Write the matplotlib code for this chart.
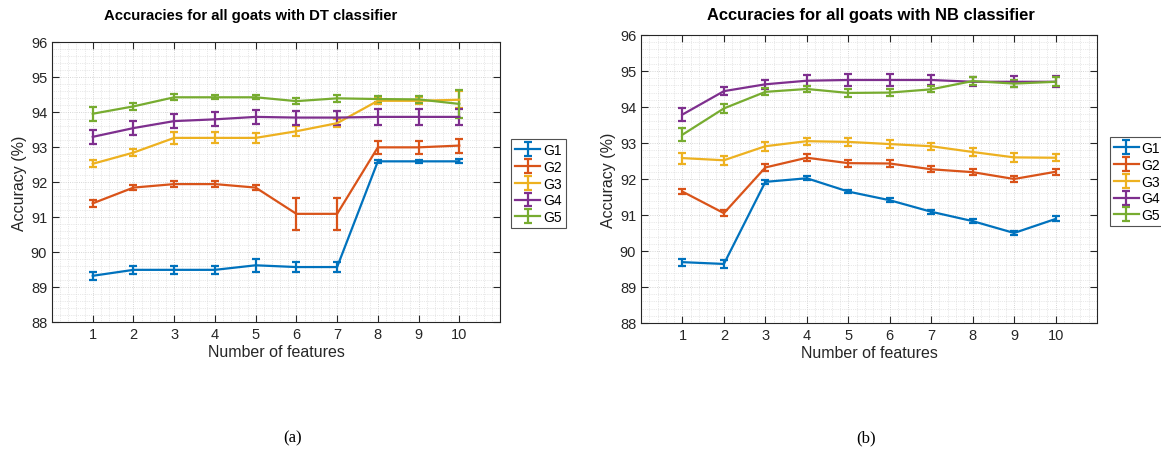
import numpy as np
import matplotlib
matplotlib.use("Agg")
import matplotlib.pyplot as plt
from matplotlib.ticker import MultipleLocator

plt.rcParams['font.family'] = ['Liberation Sans', 'DejaVu Sans']

features = np.arange(1, 11)
groups = ['G1', 'G2', 'G3', 'G4', 'G5']
colors = ['#0072BD', '#D95319', '#EDB120', '#7E2F8E', '#77AC30']

# DT classifier: mean accuracy and error per group
dt_mean = [
    [89.32, 89.49, 89.49, 89.49, 89.62, 89.57, 89.57, 92.59, 92.59, 92.59],
    [91.39, 91.84, 91.94, 91.94, 91.84, 91.09, 91.09, 92.99, 92.99, 93.04],
    [92.52, 92.84, 93.26, 93.26, 93.26, 93.45, 93.68, 94.32, 94.32, 94.35],
    [93.29, 93.54, 93.74, 93.79, 93.86, 93.84, 93.84, 93.86, 93.86, 93.86],
    [93.95, 94.16, 94.42, 94.42, 94.42, 94.31, 94.39, 94.37, 94.36, 94.23],
]
dt_err = [
    [0.12, 0.12, 0.12, 0.12, 0.18, 0.15, 0.15, 0.05, 0.05, 0.06],
    [0.10, 0.07, 0.08, 0.08, 0.07, 0.45, 0.45, 0.18, 0.18, 0.20],
    [0.10, 0.10, 0.18, 0.16, 0.15, 0.15, 0.12, 0.10, 0.10, 0.25],
    [0.20, 0.20, 0.20, 0.20, 0.20, 0.20, 0.20, 0.22, 0.22, 0.22],
    [0.20, 0.10, 0.08, 0.06, 0.06, 0.08, 0.10, 0.08, 0.10, 0.41],
]

# NB classifier
nb_mean = [
    [89.69, 89.64, 91.92, 92.02, 91.65, 91.41, 91.09, 90.83, 90.50, 90.89],
    [91.65, 91.05, 92.32, 92.59, 92.44, 92.43, 92.27, 92.19, 92.00, 92.20],
    [92.58, 92.52, 92.91, 93.05, 93.03, 92.97, 92.91, 92.75, 92.60, 92.59],
    [93.79, 94.44, 94.63, 94.73, 94.75, 94.75, 94.75, 94.70, 94.70, 94.70],
    [93.23, 93.96, 94.42, 94.50, 94.39, 94.40, 94.49, 94.72, 94.65, 94.70],
]
nb_err = [
    [0.10, 0.12, 0.05, 0.05, 0.05, 0.05, 0.05, 0.05, 0.06, 0.07],
    [0.08, 0.08, 0.10, 0.10, 0.10, 0.10, 0.08, 0.08, 0.08, 0.08],
    [0.15, 0.12, 0.12, 0.10, 0.12, 0.12, 0.10, 0.10, 0.12, 0.10],
    [0.18, 0.12, 0.12, 0.15, 0.18, 0.17, 0.15, 0.12, 0.15, 0.15],
    [0.18, 0.12, 0.10, 0.08, 0.10, 0.10, 0.08, 0.10, 0.10, 0.12],
]

fig = plt.figure(figsize=(11.61, 4.52), dpi=100)


def draw(rect, means, errs, title, title_x, title_size, legend_pos):
    ax = fig.add_axes(rect)
    for g, c, m, e in zip(groups, colors, means, errs):
        ax.errorbar(features, m, yerr=e, color=c, lw=1.6, elinewidth=1.6,
                    capsize=3, capthick=1.6, label=g)
    ax.set_xlim(0, 11)
    ax.set_ylim(88, 96)
    ax.set_xticks(features)
    ax.set_yticks(np.arange(88, 97, 1))
    ax.xaxis.set_minor_locator(MultipleLocator(0.2))
    ax.yaxis.set_minor_locator(MultipleLocator(0.2))
    ax.grid(True, which='major', color='#c8c8c8', lw=0.6, ls=':')
    ax.grid(True, which='minor', color='#d4d4d4', lw=0.5, ls=':')
    ax.set_axisbelow(True)
    ax.tick_params(which='major', direction='in', length=5, width=0.8,
                   top=True, right=True, labelsize=10.5, colors='#262626',
                   labelcolor='#262626')
    ax.tick_params(which='minor', length=0)
    for s in ax.spines.values():
        s.set_color('#262626')
        s.set_linewidth(0.8)
    # titles placed in figure coords to match the original layout
    fig.text(title_x, 0.965, title, ha='center', va='center',
             fontsize=title_size, fontweight='bold')
    ax.set_xlabel('Number of features', fontsize=11.5, color='#262626', labelpad=2)
    ax.set_ylabel('Accuracy (%)', fontsize=11.5, color='#262626', labelpad=3)
    leg = ax.legend(loc='upper left', bbox_to_anchor=legend_pos, fontsize=10,
                    frameon=True, fancybox=False, handlelength=1.8,
                    handletextpad=0.2, borderpad=0.3, labelspacing=0.2,
                    borderaxespad=0)
    leg.get_frame().set_edgecolor('#262626')
    leg.get_frame().set_linewidth(0.8)
    return ax


draw([0.0448, 0.2854, 0.3859, 0.6195], dt_mean, dt_err,
     'Accuracies for all goats with DT classifier', 0.216, 10.7, (1.025, 0.654))
draw([0.5521, 0.2832, 0.3928, 0.6372], nb_mean, nb_err,
     'Accuracies for all goats with NB classifier', 0.750, 11.9, (1.028, 0.646))

fig.text(0.2524, 0.031, '(a)', ha='center', va='center', fontsize=12,
         family=['Liberation Serif', 'DejaVu Serif'])
fig.text(0.746, 0.031, '(b)', ha='center', va='center', fontsize=12,
         family=['Liberation Serif', 'DejaVu Serif'])

fig.savefig('out.png', dpi=100)
